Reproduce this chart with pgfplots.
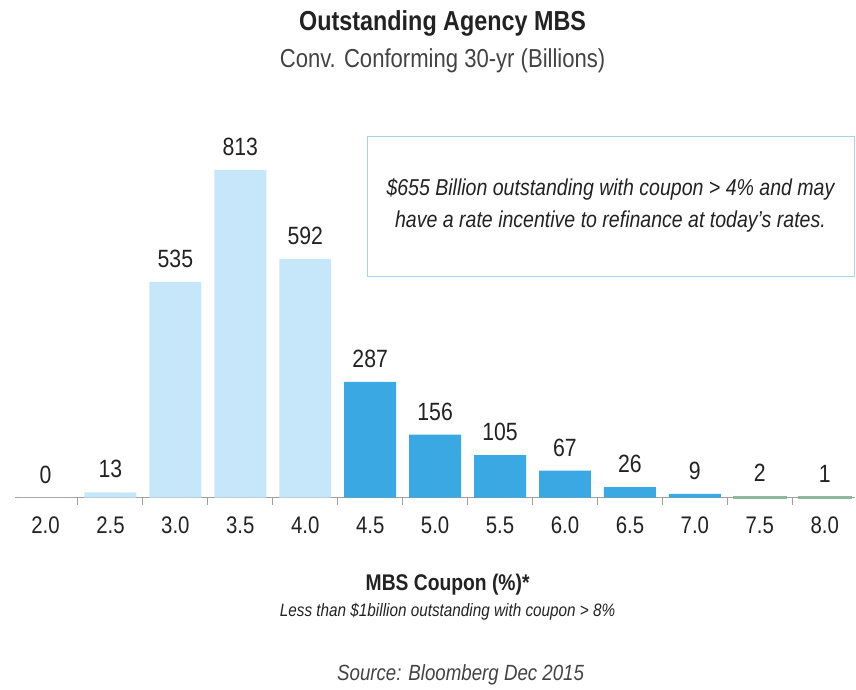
\documentclass[border=0pt]{standalone}
\usepackage{pgfplots}
\pgfplotsset{compat=1.18}
\usepackage{fontspec}
\setmainfont{Liberation Sans}[FakeStretch=0.85]

\definecolor{lightbar}{HTML}{C6E6FA}
\definecolor{bluebar}{HTML}{3AA8E2}
\definecolor{greenbar}{HTML}{8DB89B}
\definecolor{boxline}{HTML}{A8D4EA}
\definecolor{axisgray}{HTML}{A0A0A0}
\definecolor{txt}{HTML}{222222}

\begin{document}
\begin{tikzpicture}[x=1pt,y=1pt]
\path (-15,-192) rectangle (841,498);
\begin{axis}[
    at={(0,0)}, anchor=south west,
    scale only axis,
    width=841pt, height=403.4pt,
    xmin=-0.47, xmax=12.47,
    ymin=0, ymax=1000,
    ybar, bar width=52pt, bar shift=0pt,
    axis x line*=bottom,
    axis y line=none,
    x axis line style={axisgray, line width=1.5pt},
    xtick={0,...,12},
    xticklabels={2.0,2.5,3.0,3.5,4.0,4.5,5.0,5.5,6.0,6.5,7.0,7.5,8.0},
    major tick length=0pt,
    minor xtick={0.5,1.5,...,11.5},
    minor tick length=7pt,
    tick align=outside,
    minor tick style={axisgray, line width=1pt},
    xticklabel style={font=\fontsize{24}{28}\selectfont, text=txt, yshift=-16pt},
    /pgf/number format/assume math mode=true,
    nodes near coords,
    every node near coord/.append style={font=\fontsize{25}{29}\selectfont, text=txt, inner sep=4pt, yshift=10pt},
    clip=false,
]
\addplot[fill=lightbar, draw=none] coordinates {(0,0) (1,13) (2,535) (3,813) (4,592)};
\addplot[fill=bluebar, draw=none] coordinates {(5,287) (6,156) (7,105) (8,67) (9,26) (10,9)};
\addplot[fill=greenbar, draw=greenbar, line width=2pt] coordinates {(11,2) (12,1)};
\end{axis}
\node[font=\fontsize{27.5}{32}\selectfont\bfseries, text=txt] at (428,475) {Outstanding Agency MBS};
\node[font=\fontsize{26}{30}\selectfont, text=txt!85] at (428,437) {Conv. Conforming 30-yr (Billions)};
\draw[boxline, line width=1.2pt] (353,361) rectangle (840,221);
\node[font=\fontsize{23}{32}\selectfont\itshape, text=txt, align=center] at (596,292)
  {\$655 Billion outstanding with coupon > 4\% and may\\have a rate incentive to refinance at today's rates.};
\node[font=\fontsize{22.7}{26}\selectfont\bfseries, text=txt] at (433,-87) {MBS Coupon (\%)*};
\node[font=\fontsize{18}{21}\selectfont\itshape, text=txt] at (433,-114) {Less than \$1billion outstanding with coupon > 8\%};
\node[font=\fontsize{22}{25}\selectfont\itshape, text=txt!85] at (446,-177) {Source: Bloomberg Dec 2015};
\end{tikzpicture}
\end{document}
